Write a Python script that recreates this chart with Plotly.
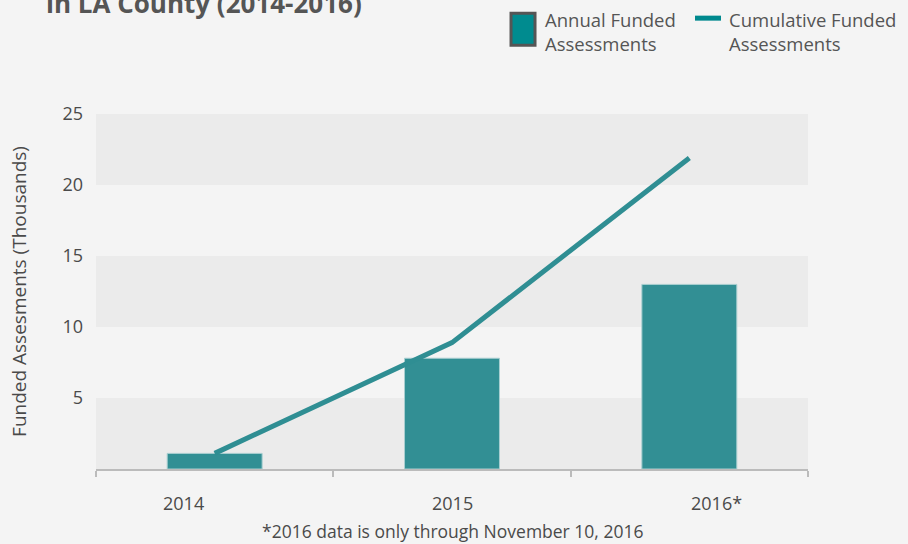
import plotly.graph_objects as go

# Values (thousands)
years = ['2014', '2015', '2016*']
annual = [1.1, 7.8, 13.0]
cumulative = [1.1, 8.9, 21.9]
y_ticks = [5, 10, 15, 20, 25]

bg = '#f4f4f4'
band = '#ebebeb'
teal = '#328f94'
text_col = '#4a4a4a'
font = 'Open Sans'

fig = go.Figure()

fig.add_trace(go.Bar(x=years, y=annual, width=0.4, marker_color=teal,
                     marker_line=dict(color='#a9cfd1', width=1),
                     name='Annual Funded Assessments', showlegend=False))
fig.add_trace(go.Scatter(x=years, y=cumulative, mode='lines',
                         line=dict(color='#2f8e93', width=5),
                         name='Cumulative Funded Assessments', showlegend=False))

# Alternating bands behind the plot
for lo in [0, 10, 20]:
    fig.add_shape(type='rect', xref='paper', yref='y', x0=0, x1=1, y0=lo, y1=lo + 5,
                  fillcolor=band, line_width=0, layer='below')

# Shift of each x label relative to its category (as in the reference)
label_shift = [-31, 0, 27]
for i, (yr, dx) in enumerate(zip(years, label_shift)):
    fig.add_annotation(x=i, y=0, xref='x', yref='y', yanchor='top', yshift=-20, xshift=dx,
                       text=yr, showarrow=False,
                       font=dict(family=font, size=18, color=text_col))

fig.add_annotation(x=0.5, y=-0.175, xref='paper', yref='paper', yanchor='middle',
                   text='*2016 data is only through November 10, 2016', showarrow=False,
                   font=dict(family=font, size=17.5, color=text_col))

# Title, cropped at the top of the image
fig.add_annotation(x=-0.073, y=1.257, xref='paper', yref='paper', xanchor='left', yanchor='bottom',
                   text='<b>in LA County (2014-2016)</b>', showarrow=False,
                   font=dict(family=font, size=26, color='#555555'))

# Hand-built legend
fig.add_shape(type='rect', xref='paper', yref='paper', x0=0.5829, x1=0.6166, y0=1.194, y1=1.284,
              fillcolor='#008b8f', line=dict(color='#555555', width=3))
fig.add_shape(type='line', xref='paper', yref='paper', x0=0.8413, x1=0.8778, y0=1.270, y1=1.270,
              line=dict(color='#00898e', width=5))
for x0, label in [(0.6278, 'Annual Funded<br>Assessments'),
                  (0.8863, 'Cumulative Funded<br>Assessments')]:
    fig.add_annotation(x=x0, y=1.233, xref='paper', yref='paper',
                       xanchor='left', yanchor='middle', align='left', text=label, showarrow=False,
                       font=dict(family=font, size=18.5, color='#555555'))

fig.update_layout(
    width=908, height=544,
    margin=dict(l=96, r=100, t=114, b=75),
    paper_bgcolor=bg, plot_bgcolor=bg,
    bargap=0.6,
)
fig.update_xaxes(type='category', showticklabels=False, tickson='boundaries',
                 ticks='outside', ticklen=6, tickcolor='#bbbbbb', tickwidth=2,
                 showline=True, linecolor='#bbbbbb', linewidth=2,
                 showgrid=False, range=[-0.5, 2.5], fixedrange=True)
fig.update_yaxes(range=[0, 25], tickvals=y_ticks, showgrid=False, zeroline=False,
                 tickfont=dict(family=font, size=18, color=text_col),
                 ticklabelstandoff=12,
                 title=dict(text='Funded Assesments (Thousands)', standoff=30,
                            font=dict(family=font, size=19, color=text_col)))

fig.write_html('out.html', config={'displayModeBar': False},
               post_script="document.body.style.margin='0';document.body.style.background='#f4f4f4';")
